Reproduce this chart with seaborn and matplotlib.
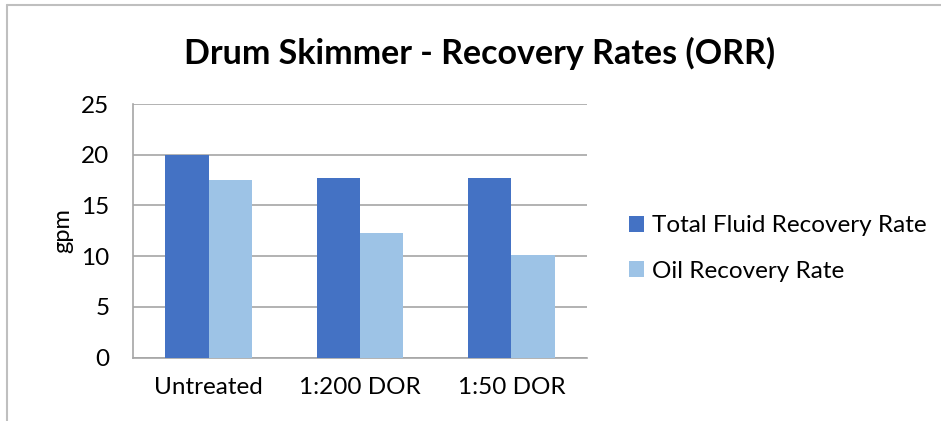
import pandas as pd
import matplotlib.pyplot as plt
import seaborn as sns
from matplotlib.lines import Line2D

categorias = ['Untreated', '1:200 DOR', '1:50 DOR']
total_fluid = [20.0, 17.7, 17.7]
oil = [17.5, 12.3, 10.1]
series = ['Total Fluid Recovery Rate', 'Oil Recovery Rate']
colores = ['#4472C4', '#9DC3E6']

df = pd.DataFrame({
    'Categoria': categorias * 2,
    'Serie': [series[0]] * 3 + [series[1]] * 3,
    'gpm': total_fluid + oil,
})

sns.set_style('white')
plt.rcParams['font.family'] = ['Lato', 'DejaVu Sans']
plt.rcParams['text.color'] = 'black'
plt.rcParams['axes.labelcolor'] = 'black'
plt.rcParams['xtick.color'] = 'black'
plt.rcParams['ytick.color'] = 'black'

fig = plt.figure(figsize=(9.41, 4.21), dpi=100)
ax = fig.add_axes([0.1413, 0.1504, 0.4825, 0.6025])

sns.barplot(data=df, x='Categoria', y='gpm', hue='Serie', palette=colores,
            width=0.573, gap=0, saturation=1, linewidth=0, ax=ax, zorder=3)

ax.set_ylim(0, 25)
ax.set_xlim(-0.5, 2.5)
ax.set_yticks([0, 5, 10, 15, 20, 25])
ax.yaxis.grid(True, color='#a6a6a6', linewidth=1.2, zorder=0)
ax.set_axisbelow(True)

# ejes estilo excel
for s in ['top', 'right']:
    ax.spines[s].set_visible(False)
for s in ['left', 'bottom']:
    ax.spines[s].set_color('#a6a6a6')
    ax.spines[s].set_linewidth(1.2)

ax.tick_params(axis='y', length=7, color='#a6a6a6', labelcolor='black', width=1.2,
               labelsize=17.5, pad=10)
ax.tick_params(axis='x', which='major', length=0, labelcolor='black', labelsize=17.5, pad=14)
ax.set_xticks([-0.5, 0.5, 1.5, 2.5], minor=True)
ax.tick_params(axis='x', which='minor', length=7, color='#a6a6a6', width=1.2)

ax.set_xlabel('')
ax.set_ylabel('gpm', fontsize=17, labelpad=6)

fig.text(0.51, 0.874, 'Drum Skimmer - Recovery Rates (ORR)', ha='center', va='center',
         fontsize=24.5, fontweight='bold', color='black')

handles, labels = ax.get_legend_handles_labels()
ax.legend(handles, labels, loc='center left', bbox_to_anchor=(1.045, 0.43), frameon=False,
          fontsize=17.5, handlelength=0.6, handleheight=0.6, handletextpad=0.35,
          labelspacing=1.0)

# borde del area del grafico
fig.add_artist(Line2D([0.0075, 0.0075], [0, 0.988], color='#bfbfbf', linewidth=1.5))
fig.add_artist(Line2D([0.0075, 1.0], [0.988, 0.988], color='#bfbfbf', linewidth=1.5))

plt.savefig('out.png', dpi=100)
